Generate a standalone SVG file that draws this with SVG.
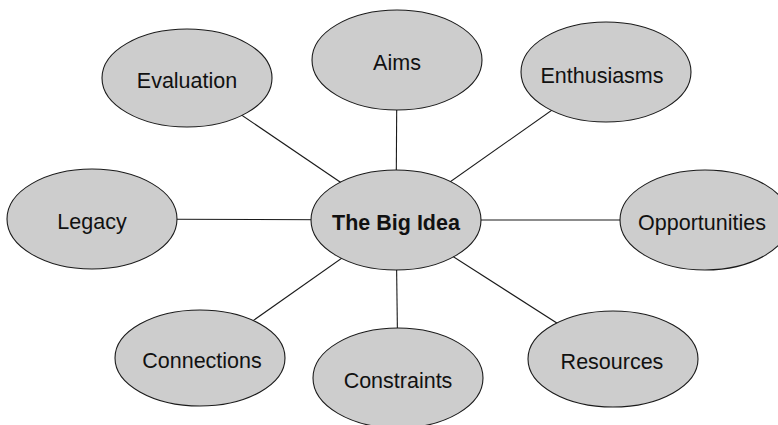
<svg xmlns="http://www.w3.org/2000/svg" width="778" height="425" viewBox="0 0 778 425">
  <style>
    .node ellipse { fill: #cdcdcd; stroke: #1a1a1a; stroke-width: 1.1; }
    .node text { font-family: "Liberation Sans", Arial, sans-serif; font-size: 21.5px; fill: #111; text-anchor: middle; }
    .hub text { font-weight: bold; }
    .links line { stroke: #1a1a1a; stroke-width: 1.1; }
  </style>
  <rect width="778" height="425" fill="#ffffff"/>

  <!-- spokes from the central idea to each surrounding topic -->
  <g id="connectors" class="links">
    <line x1="396" y1="220" x2="397" y2="60"/>
    <line x1="396" y1="220" x2="187" y2="78"/>
    <line x1="396" y1="220" x2="606" y2="72"/>
    <line x1="396" y1="220" x2="92" y2="219"/>
    <line x1="396" y1="220" x2="705" y2="220"/>
    <line x1="396" y1="220" x2="200" y2="358"/>
    <line x1="396" y1="220" x2="398" y2="378"/>
    <line x1="396" y1="220" x2="613" y2="359"/>
  </g>

  <g id="big-idea" class="node hub">
    <ellipse cx="396" cy="220" rx="85" ry="50"/>
    <text x="396" y="230">The Big Idea</text>
  </g>
  <g id="aims" class="node">
    <ellipse cx="397" cy="60" rx="85" ry="50"/>
    <text x="397" y="70">Aims</text>
  </g>
  <g id="evaluation" class="node">
    <ellipse cx="187" cy="78" rx="85" ry="49"/>
    <text x="187" y="88">Evaluation</text>
  </g>
  <g id="enthusiasms" class="node">
    <ellipse cx="606" cy="72" rx="85" ry="50"/>
    <text x="602" y="83">Enthusiasms</text>
  </g>
  <g id="legacy" class="node">
    <ellipse cx="92" cy="219" rx="85" ry="50"/>
    <text x="92" y="229">Legacy</text>
  </g>
  <g id="opportunities" class="node">
    <ellipse cx="705" cy="220" rx="85" ry="50"/>
    <text x="702" y="230">Opportunities</text>
  </g>
  <g id="connections" class="node">
    <ellipse cx="200" cy="358" rx="85" ry="48"/>
    <text x="202" y="368">Connections</text>
  </g>
  <g id="constraints" class="node">
    <ellipse cx="398" cy="378" rx="85" ry="50"/>
    <text x="398" y="388">Constraints</text>
  </g>
  <g id="resources" class="node">
    <ellipse cx="613" cy="359" rx="85" ry="48"/>
    <text x="612" y="369">Resources</text>
  </g>
</svg>
